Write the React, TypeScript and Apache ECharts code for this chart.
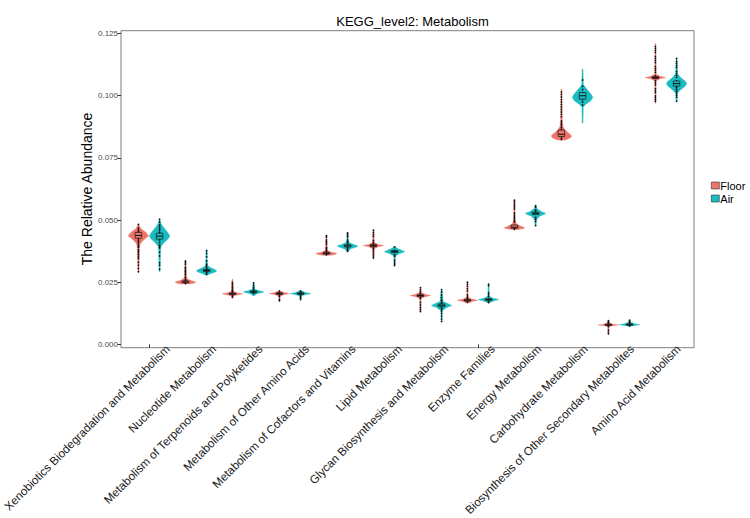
import React, { useEffect, useRef } from "react";
import * as echarts from "echarts";

const categories = [
  "Xenobiotics Biodegradation and Metabolism",
  "Nucleotide Metabolism",
  "Metabolism of Terpenoids and Polyketides",
  "Metabolism of Other Amino Acids",
  "Metabolism of Cofactors and Vitamins",
  "Lipid Metabolism",
  "Glycan Biosynthesis and Metabolism",
  "Enzyme Families",
  "Energy Metabolism",
  "Carbohydrate Metabolism",
  "Biosynthesis of Other Secondary Metabolites",
  "Amino Acid Metabolism",
];

const groupNames = ["Floor", "Air"];
const groupColors = ["#EE746B", "#19BCC0"];
const yTicks = [0, 0.025, 0.05, 0.075, 0.1, 0.125];

// Violin outlines per category: [relative abundance, relative half-width]
const floorViolins: number[][][] = [
  [[0.0292, 0.05], [0.034, 0.07], [0.0385, 0.09], [0.0405, 0.18], [0.0422, 0.55], [0.0436, 1], [0.045, 0.75], [0.0463, 0.3], [0.0475, 0.1], [0.0484, 0.04]],
  [[0.0243, 0.45], [0.0247, 0.9], [0.0251, 1], [0.0256, 0.6], [0.0262, 0.25], [0.027, 0.1], [0.029, 0.07], [0.0336, 0.04]],
  [[0.0185, 0.05], [0.0195, 0.1], [0.0199, 0.55], [0.0203, 1], [0.0207, 0.45], [0.0213, 0.1], [0.0262, 0.04]],
  [[0.0174, 0.04], [0.0194, 0.08], [0.02, 0.5], [0.0204, 1], [0.0208, 0.45], [0.0215, 0.05]],
  [[0.0358, 0.4], [0.0362, 0.9], [0.0366, 1], [0.0371, 0.4], [0.0378, 0.1], [0.04, 0.07], [0.0437, 0.04]],
  [[0.0346, 0.04], [0.0384, 0.08], [0.0392, 0.45], [0.0397, 1], [0.0402, 0.45], [0.041, 0.08], [0.046, 0.04]],
  [[0.0131, 0.04], [0.0185, 0.07], [0.0191, 0.45], [0.0196, 1], [0.0201, 0.45], [0.0209, 0.07], [0.0229, 0.04]],
  [[0.0165, 0.05], [0.0172, 0.45], [0.0177, 1], [0.0182, 0.4], [0.019, 0.07], [0.0251, 0.04]],
  [[0.0462, 0.35], [0.0466, 0.9], [0.0469, 1], [0.0475, 0.65], [0.0484, 0.2], [0.0498, 0.08], [0.0581, 0.04]],
  [[0.0822, 0.4], [0.083, 0.85], [0.0838, 1], [0.0848, 0.75], [0.086, 0.4], [0.0875, 0.15], [0.09, 0.08], [0.1027, 0.04]],
  [[0.0041, 0.04], [0.0072, 0.07], [0.0076, 0.55], [0.0078, 1], [0.0081, 0.45], [0.0087, 0.07], [0.0095, 0.04]],
  [[0.097, 0.04], [0.106, 0.07], [0.1068, 0.45], [0.1073, 1], [0.1078, 0.45], [0.1086, 0.07], [0.1209, 0.04]],
];

const airViolins: number[][][] = [
  [[0.0293, 0.05], [0.033, 0.07], [0.0375, 0.08], [0.0395, 0.15], [0.041, 0.45], [0.0425, 0.85], [0.0436, 1], [0.045, 0.8], [0.0465, 0.5], [0.048, 0.22], [0.0492, 0.08], [0.0503, 0.04]],
  [[0.0278, 0.06], [0.0284, 0.35], [0.0291, 0.85], [0.0296, 1], [0.0302, 0.75], [0.031, 0.3], [0.0318, 0.1], [0.034, 0.07], [0.0382, 0.04]],
  [[0.0195, 0.06], [0.0203, 0.3], [0.0208, 0.85], [0.0211, 1], [0.0215, 0.6], [0.0221, 0.12], [0.0248, 0.04]],
  [[0.0175, 0.04], [0.0195, 0.08], [0.02, 0.55], [0.0204, 1], [0.0208, 0.5], [0.0216, 0.05]],
  [[0.0373, 0.06], [0.0384, 0.3], [0.0391, 0.85], [0.0396, 1], [0.0401, 0.65], [0.0409, 0.18], [0.042, 0.07], [0.0448, 0.04]],
  [[0.0316, 0.04], [0.0355, 0.08], [0.0364, 0.45], [0.0372, 1], [0.0379, 0.65], [0.0386, 0.25], [0.0393, 0.05]],
  [[0.0091, 0.04], [0.0135, 0.07], [0.0147, 0.45], [0.0156, 1], [0.0163, 0.65], [0.0172, 0.15], [0.0221, 0.04]],
  [[0.0167, 0.06], [0.0175, 0.55], [0.018, 1], [0.0185, 0.45], [0.0193, 0.07], [0.0243, 0.04]],
  [[0.0477, 0.05], [0.05, 0.08], [0.0514, 0.35], [0.0523, 0.85], [0.0527, 1], [0.0533, 0.6], [0.0545, 0.15], [0.0558, 0.04]],
  [[0.089, 0.04], [0.0955, 0.07], [0.0965, 0.3], [0.098, 0.8], [0.0993, 1], [0.1005, 0.85], [0.102, 0.55], [0.1035, 0.25], [0.1045, 0.08], [0.1107, 0.04]],
  [[0.0073, 0.06], [0.0076, 0.55], [0.0079, 1], [0.0083, 0.45], [0.009, 0.07], [0.0098, 0.04]],
  [[0.0977, 0.05], [0.101, 0.08], [0.1022, 0.35], [0.1037, 0.8], [0.1048, 1], [0.1058, 0.85], [0.1073, 0.4], [0.1088, 0.1], [0.1151, 0.04]],
];

// Box statistics per category: [Q1, median, Q3]
const floorBoxes = [
  [0.0427, 0.0438, 0.045], [0.0248, 0.0251, 0.0255], [0.02, 0.0203, 0.0206], [0.0201, 0.0204, 0.0207],
  [0.0363, 0.0366, 0.037], [0.0393, 0.0397, 0.0401], [0.0192, 0.0196, 0.0199], [0.0174, 0.0177, 0.018],
  [0.0467, 0.0471, 0.048], [0.0836, 0.0845, 0.0862], [0.0076, 0.0078, 0.0081], [0.1069, 0.1073, 0.1077],
];
const airBoxes = [
  [0.0423, 0.0435, 0.0447], [0.0293, 0.0297, 0.0301], [0.0208, 0.0211, 0.0214], [0.0201, 0.0204, 0.0207],
  [0.0392, 0.0396, 0.04], [0.0369, 0.0373, 0.0377], [0.0151, 0.0157, 0.0162], [0.0177, 0.018, 0.0183],
  [0.0522, 0.0527, 0.0531], [0.0986, 0.1, 0.1013], [0.0077, 0.0079, 0.0082], [0.1039, 0.1049, 0.1059],
];

// Individual samples
const floorSamples = [
  [0.0292, 0.0305, 0.0318, 0.033, 0.0345, 0.0352, 0.036, 0.0368, 0.0375, 0.038, 0.0386, 0.039, 0.0395, 0.04, 0.0408, 0.0415, 0.042, 0.0428, 0.0433, 0.0438, 0.0442, 0.0446, 0.045, 0.0455, 0.046, 0.0468, 0.0476, 0.0482],
  [0.0245, 0.0248, 0.025, 0.0252, 0.0255, 0.0258, 0.0262, 0.0266, 0.027, 0.0276, 0.028, 0.0287, 0.0293, 0.0298, 0.0305, 0.031, 0.0316, 0.0322, 0.0328, 0.0335],
  [0.0186, 0.019, 0.0195, 0.0199, 0.0201, 0.0203, 0.0205, 0.0208, 0.0212, 0.0217, 0.0222, 0.0228, 0.0235, 0.0242, 0.0249, 0.0256, 0.0261],
  [0.0175, 0.018, 0.0186, 0.0192, 0.0197, 0.02, 0.0203, 0.0205, 0.0208, 0.0211, 0.0214],
  [0.036, 0.0363, 0.0366, 0.0369, 0.0373, 0.0378, 0.0384, 0.039, 0.0396, 0.0402, 0.0408, 0.0414, 0.042, 0.0426, 0.0432, 0.0437],
  [0.0347, 0.0355, 0.0363, 0.0372, 0.038, 0.0387, 0.0392, 0.0395, 0.0398, 0.0401, 0.0405, 0.041, 0.0418, 0.0426, 0.0434, 0.0442, 0.045, 0.0459],
  [0.0132, 0.014, 0.0148, 0.0158, 0.0168, 0.0176, 0.0184, 0.019, 0.0194, 0.0197, 0.02, 0.0205, 0.0212, 0.022, 0.0228],
  [0.0166, 0.017, 0.0174, 0.0177, 0.018, 0.0184, 0.019, 0.0198, 0.0206, 0.0215, 0.0224, 0.0233, 0.0242, 0.025],
  [0.0463, 0.0467, 0.047, 0.0473, 0.0477, 0.0481, 0.0486, 0.0492, 0.0498, 0.0505, 0.0512, 0.052, 0.0528, 0.0536, 0.0544, 0.0552, 0.056, 0.0568, 0.0575, 0.058],
  [0.0824, 0.083, 0.0836, 0.084, 0.0844, 0.0848, 0.0853, 0.0858, 0.0865, 0.0873, 0.0882, 0.089, 0.0898, 0.0906, 0.0915, 0.0925, 0.0935, 0.0945, 0.0955, 0.0965, 0.0975, 0.0985, 0.0995, 0.1005, 0.1015, 0.1026],
  [0.0042, 0.005, 0.0058, 0.0066, 0.0072, 0.0075, 0.0077, 0.0079, 0.0081, 0.0084, 0.0088, 0.0092, 0.0095],
  [0.0971, 0.0978, 0.0985, 0.0992, 0.0999, 0.1006, 0.1013, 0.102, 0.1028, 0.1036, 0.1044, 0.1052, 0.106, 0.1066, 0.107, 0.1073, 0.1076, 0.108, 0.1086, 0.1094, 0.1102, 0.111, 0.1118, 0.1126, 0.1134, 0.1142, 0.115, 0.1158, 0.1166, 0.1174, 0.1182, 0.119, 0.1198, 0.1206],
];
const airSamples = [
  [0.0296, 0.0302, 0.0318, 0.0328, 0.0355, 0.037, 0.0388, 0.0395, 0.04, 0.041, 0.042, 0.0428, 0.0432, 0.0436, 0.044, 0.0445, 0.045, 0.0458, 0.0465, 0.0472, 0.048, 0.0492, 0.0503],
  [0.0282, 0.0288, 0.0292, 0.0295, 0.0297, 0.03, 0.0303, 0.0308, 0.0315, 0.0322, 0.0335, 0.0352, 0.0365, 0.0375, 0.0381],
  [0.0196, 0.0201, 0.0205, 0.0208, 0.021, 0.0212, 0.0215, 0.0218, 0.0223, 0.023, 0.0238, 0.0247],
  [0.0176, 0.0182, 0.0188, 0.0194, 0.0198, 0.0201, 0.0204, 0.0207, 0.021, 0.0214],
  [0.0374, 0.0379, 0.0384, 0.0389, 0.0393, 0.0396, 0.0399, 0.0403, 0.0408, 0.0414, 0.042, 0.0426, 0.0432, 0.0438, 0.0444, 0.0448],
  [0.0317, 0.0323, 0.033, 0.0338, 0.0346, 0.0354, 0.036, 0.0366, 0.037, 0.0373, 0.0377, 0.0381, 0.0386, 0.0392],
  [0.0092, 0.0102, 0.0113, 0.0124, 0.0134, 0.0142, 0.0149, 0.0154, 0.0157, 0.016, 0.0164, 0.017, 0.0178, 0.0188, 0.0198, 0.021, 0.022],
  [0.0168, 0.0172, 0.0176, 0.0179, 0.0182, 0.0186, 0.0192, 0.0199, 0.0207, 0.0216, 0.0226, 0.0235, 0.0242],
  [0.0478, 0.0486, 0.0494, 0.0502, 0.051, 0.0516, 0.0521, 0.0525, 0.0528, 0.0531, 0.0535, 0.054, 0.0546, 0.0552, 0.0557],
  [0.0891, 0.0963, 0.0975, 0.0985, 0.0993, 0.0999, 0.1005, 0.1012, 0.1025, 0.1038, 0.1063, 0.1106],
  [0.0074, 0.0076, 0.0078, 0.008, 0.0082, 0.0085, 0.0089, 0.0093, 0.0097],
  [0.0978, 0.0986, 0.0994, 0.1002, 0.101, 0.1018, 0.1025, 0.1032, 0.1038, 0.1044, 0.1049, 0.1054, 0.1059, 0.1066, 0.1074, 0.1082, 0.109, 0.1098, 0.1106, 0.1114, 0.1122, 0.113, 0.1138, 0.1146, 0.115],
];

const FONT = "Liberation Sans, Arial, Helvetica, sans-serif";

// Plot panel layout (px)
const PLOT_LEFT = 125.5;
const PLOT_RIGHT = 60.5;
const PLOT_TOP = 33.6;
const PLOT_BOTTOM = 173.7;
const PANEL = { x: 121, y: 30.7, w: 573, h: 317 };
const LABEL_SHIFT = 12;

function violinRenderer(
  violins: number[][][],
  boxes: number[][],
  samples: number[][],
  color: string,
  side: number
) {
  return (params: any, api: any) => {
    const i = params.dataIndex;
    const band = api.size([1, 0])[0];
    const halfW = band * 0.225;
    const cx = api.coord([i, 0])[0] + side * halfW;
    const py = (v: number) => api.coord([i, v])[1];

    const prof = violins[i];
    const right = prof.map(([v, w]) => [cx + w * halfW * 0.97, py(v)]);
    const left = prof
      .slice()
      .reverse()
      .map(([v, w]) => [cx - w * halfW * 0.97, py(v)]);

    const children: any[] = [
      {
        type: "polygon",
        shape: { points: right.concat(left) },
        style: { fill: color, stroke: color, lineWidth: 0.4 },
      },
    ];

    samples[i].forEach((v) => {
      children.push({
        type: "circle",
        shape: { cx, cy: py(v), r: 0.85 },
        style: { fill: "#111111" },
      });
    });

    const [q1, med, q3] = boxes[i];
    const bw = band * 0.07;
    const y1 = py(q1);
    const y3 = py(q3);
    const ym = py(med);
    children.push({
      type: "rect",
      shape: { x: cx - bw, y: y3, width: 2 * bw, height: Math.max(y1 - y3, 1) },
      style: { fill: color, stroke: "#1a1a1a", lineWidth: 0.7 },
    });
    children.push({
      type: "line",
      shape: { x1: cx - bw, y1: ym, x2: cx + bw, y2: ym },
      style: { stroke: "#111111", lineWidth: 1 },
    });

    return { type: "group", children };
  };
}

export default function App() {
  const ref = useRef<HTMLDivElement>(null);

  useEffect(() => {
    if (!ref.current) return;
    const chart = echarts.init(ref.current, undefined, { renderer: "svg" });

    const groupData = [
      { violins: floorViolins, boxes: floorBoxes, samples: floorSamples, side: -1 },
      { violins: airViolins, boxes: airBoxes, samples: airSamples, side: 1 },
    ];

    const option: any = {
      animation: false,
      backgroundColor: "#ffffff",
      title: {
        text: "KEGG_level2: Metabolism",
        left: PANEL.x + PANEL.w / 2,
        textAlign: "center",
        top: 10,
        textStyle: { fontFamily: FONT, fontSize: 13, fontWeight: "normal", color: "#000000" },
      },
      legend: {
        data: groupNames,
        orient: "vertical",
        left: 711,
        top: 180,
        padding: 0,
        itemWidth: 8,
        itemHeight: 7,
        itemGap: 2,
        icon: "rect",
        itemStyle: { borderColor: "#333333", borderWidth: 0.6 },
        textStyle: { fontFamily: FONT, fontSize: 11, color: "#000000", padding: [0, 0, 0, -4] },
      },
      graphic: [
        {
          type: "rect",
          z: 0,
          shape: { x: PANEL.x, y: PANEL.y, width: PANEL.w, height: PANEL.h },
          style: { fill: "none", stroke: "#7f7f7f", lineWidth: 1 },
        },
      ],
      grid: [
        { left: PLOT_LEFT, right: PLOT_RIGHT, top: PLOT_TOP, bottom: PLOT_BOTTOM },
        {
          left: PLOT_LEFT + LABEL_SHIFT,
          right: PLOT_RIGHT - LABEL_SHIFT,
          top: PLOT_TOP,
          bottom: PLOT_BOTTOM,
        },
      ],
      xAxis: [
        {
          type: "category",
          gridIndex: 0,
          data: categories,
          offset: 3.4,
          axisLine: { show: false },
          axisTick: { show: true, alignWithLabel: true, length: 3.5, lineStyle: { color: "#333333", width: 1 } },
          axisLabel: { show: false },
          splitLine: { show: false },
        },
        {
          type: "category",
          gridIndex: 1,
          data: categories,
          offset: 10,
          axisLine: { show: false },
          axisTick: { show: false },
          axisLabel: {
            rotate: 45,
            margin: 9.5,
            interval: 0,
            fontFamily: FONT,
            fontSize: 11.7,
            color: "#1a1a1a",
          },
          splitLine: { show: false },
        },
      ],
      yAxis: [
        {
          type: "value",
          gridIndex: 0,
          min: yTicks[0],
          max: yTicks[yTicks.length - 1],
          interval: 0.025,
          offset: 4.5,
          name: "The Relative Abundance",
          nameLocation: "middle",
          nameGap: 27,
          nameMoveOverlap: false,
          nameTextStyle: { fontFamily: FONT, fontSize: 14, color: "#000000" },
          axisLine: { show: false },
          axisTick: { show: true, length: 3.5, lineStyle: { color: "#333333", width: 1 } },
          axisLabel: {
            fontFamily: FONT,
            fontSize: 8,
            color: "#4d4d4d",
            margin: 3,
            formatter: (v: number) => v.toFixed(3),
          },
          splitLine: { show: false },
        },
        { type: "value", gridIndex: 1, min: 0, max: 1, show: false },
      ],
      series: groupData.map((g, gi) => ({
        name: groupNames[gi],
        type: "custom",
        xAxisIndex: 0,
        yAxisIndex: 0,
        itemStyle: { color: groupColors[gi] },
        encode: { x: 0, y: 1 },
        data: categories.map((_, i) => [i, g.boxes[i][1]]),
        renderItem: violinRenderer(g.violins, g.boxes, g.samples, groupColors[gi], g.side),
        z: 2,
      })),
    };

    chart.setOption(option);
    return () => chart.dispose();
  }, []);

  return (
    <div
      ref={ref}
      style={{ position: "fixed", left: 0, top: 0, width: 750, height: 518, background: "#fff" }}
    />
  );
}
